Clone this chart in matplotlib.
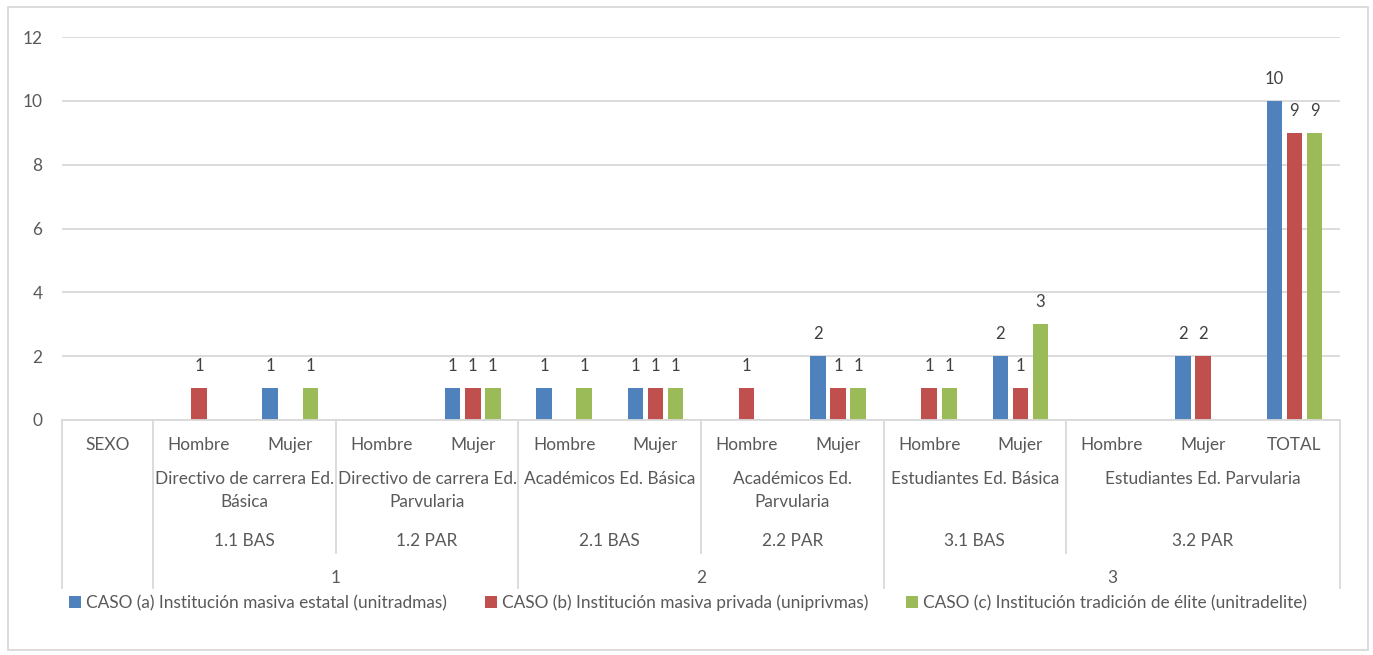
import numpy as np
import matplotlib
matplotlib.use("Agg")
import matplotlib.pyplot as plt
from matplotlib.patches import Rectangle

plt.rcParams['font.family'] = ['Lato', 'DejaVu Sans']

# categorias (nivel inferior)
sexo = ["SEXO", "Hombre", "Mujer", "Hombre", "Mujer", "Hombre", "Mujer",
        "Hombre", "Mujer", "Hombre", "Mujer", "Hombre", "Mujer", "TOTAL"]
# grupos: (etiqueta, primera categoria, ultima categoria)
grupos = [("Directivo de carrera Ed.\nBásica", 1, 2),
          ("Directivo de carrera Ed.\nParvularia", 3, 4),
          ("Académicos Ed. Básica", 5, 6),
          ("Académicos Ed.\nParvularia", 7, 8),
          ("Estudiantes Ed. Básica", 9, 10),
          ("Estudiantes Ed. Parvularia", 11, 13)]
codigos = ["1.1 BAS", "1.2 PAR", "2.1 BAS", "2.2 PAR", "3.1 BAS", "3.2 PAR"]
niveles = [("1", 1, 4), ("2", 5, 8), ("3", 9, 13)]

series = ["CASO (a) Institución masiva estatal (unitradmas)",
          "CASO (b) Institución masiva privada (uniprivmas)",
          "CASO (c) Institución tradición de élite (unitradelite)"]
caso_a = [None, None, 1, None, 1, 1, 1, None, 2, None, 2, None, 2, 10]
caso_b = [None, 1, None, None, 1, None, 1, 1, 1, 1, 1, None, 2, 9]
caso_c = [None, None, 1, None, 1, 1, 1, None, 1, 1, 3, None, None, 9]
colores = ["#4F81BD", "#C0504D", "#9BBB59"]

txt = "#595959"
linea = "#D9D9D9"
fs = 12.4

fig = plt.figure(figsize=(13.73, 6.55), dpi=100)
ax = fig.add_axes([62 / 1373, 1 - 420 / 655, (1340 - 62) / 1373, 383 / 655])

x = np.arange(len(sexo))
ancho = 0.17
paso = 0.22
for i, (vals, col, nom) in enumerate(zip([caso_a, caso_b, caso_c], colores, series)):
    v = np.array([np.nan if a is None else a for a in vals], dtype=float)
    bars = ax.bar(x + (i - 1) * paso, np.nan_to_num(v), ancho, color=col, label=nom)
    etiquetas = ["" if a is None else str(a) for a in vals]
    ax.bar_label(bars, labels=etiquetas, padding=10, color="#404040", fontsize=12)

ax.set_xlim(-0.5, len(sexo) - 0.5)
ax.set_ylim(0, 12)
ax.set_yticks(range(0, 13, 2))
ax.yaxis.grid(True, color=linea, linewidth=1.3)
ax.set_axisbelow(True)
ax.tick_params(axis='y', length=0, pad=14, labelsize=fs, labelcolor=txt)
ax.set_xticks([])
for s in ["top", "right", "left"]:
    ax.spines[s].set_visible(False)
ax.spines["bottom"].set_color(linea)
ax.spines["bottom"].set_linewidth(1.3)

tr = ax.get_xaxis_transform()
def fy(py):
    # pixel del eje y -> fraccion del eje
    return (420 - py) / 383

# etiquetas de categorias multinivel
for i, s in enumerate(sexo):
    ax.text(i, fy(445), s, transform=tr, ha="center", va="center", fontsize=fs, color=txt)
for (nom, a, b), cod in zip(grupos, codigos):
    xc = (a + b) / 2
    ax.text(xc, fy(471), nom, transform=tr, ha="center", va="top", fontsize=fs,
            color=txt, linespacing=1.55)
    ax.text(xc, fy(541), cod, transform=tr, ha="center", va="center", fontsize=fs, color=txt)
for nom, a, b in niveles:
    ax.text((a + b) / 2, fy(578), nom, transform=tr, ha="center", va="center",
            fontsize=fs, color=txt)

# lineas separadoras
largas = [-0.5, 0.5] + [b + 0.5 for _, _, b in niveles]
cortas = [b + 0.5 for _, _, b in grupos if b + 0.5 not in largas]
for xs in largas:
    ax.plot([xs, xs], [0, fy(588)], transform=tr, color=linea, lw=1.3, clip_on=False)
for xs in cortas:
    ax.plot([xs, xs], [0, fy(553)], transform=tr, color=linea, lw=1.3, clip_on=False)

fig.legend(loc="center", bbox_to_anchor=(688 / 1373, 1 - 603 / 655), ncol=3,
           frameon=False, fontsize=fs, labelcolor=txt, handlelength=0.7,
           handleheight=0.7, handletextpad=0.3, columnspacing=2.2)

fig.patches.append(Rectangle((8 / 1373, 5 / 655), 1360 / 1373, 643 / 655,
                             transform=fig.transFigure, fill=False,
                             edgecolor=linea, linewidth=1.3))

fig.savefig("out.png", dpi=100)
